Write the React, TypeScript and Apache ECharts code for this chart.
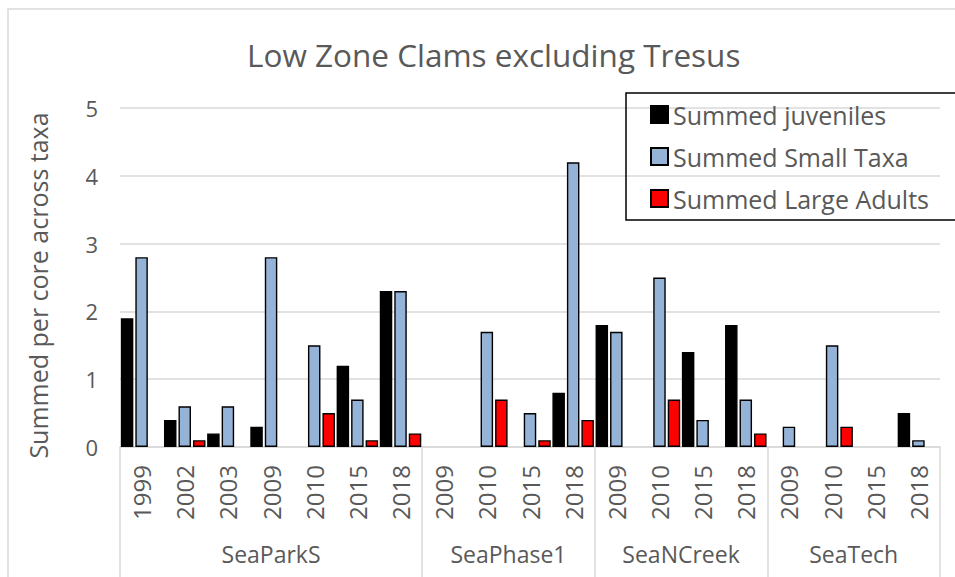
import React, { useEffect, useRef } from "react";
import * as echarts from "echarts";

const groups = ["SeaParkS", "SeaPhase1", "SeaNCreek", "SeaTech"];
const groupYears = [
  ["1999", "2002", "2003", "2009", "2010", "2015", "2018"],
  ["2009", "2010", "2015", "2018"],
  ["2009", "2010", "2015", "2018"],
  ["2009", "2010", "2015", "2018"],
];
const seriesNames = ["Summed juveniles", "Summed Small Taxa", "Summed Large Adults"];
const juveniles = [1.9, 0.4, 0.2, 0.3, 0, 1.2, 2.3, 0, 0, 0, 0.8, 1.8, 0, 1.4, 1.8, 0, 0, 0, 0.5];
const smallTaxa = [2.8, 0.6, 0.6, 2.8, 1.5, 0.7, 2.3, 0, 1.7, 0.5, 4.2, 1.7, 2.5, 0.4, 0.7, 0.3, 1.5, 0, 0.1];
const largeAdults = [0, 0.1, 0, 0, 0.5, 0.1, 0.2, 0, 0.7, 0.1, 0.4, 0, 0.7, 0, 0.2, 0, 0.3, 0, 0];
const yTicks = [0, 1, 2, 3, 4, 5];

const FONT = "'Open Sans', sans-serif";
const TXT = "#595959";
const GRID = "#D9D9D9";

export default function App() {
  const ref = useRef<HTMLDivElement>(null);
  useEffect(() => {
    if (!ref.current) return;
    const chart = echarts.init(ref.current, undefined, { renderer: "svg" });

    const years = groupYears.flat();
    // half-unit axis for group labels and separators
    const boundaries: number[] = [0];
    const mids: Record<number, string> = {};
    let acc = 0;
    groupYears.forEach((g, gi) => {
      mids[acc * 2 + g.length] = groups[gi];
      acc += g.length;
      boundaries.push(acc * 2);
    });
    const halfData = Array.from({ length: years.length * 2 + 1 }, (_, i) => "h" + i);

    const toData = (arr: number[]) => arr.map((v) => (v === 0 ? "-" : v));
    const colors = ["#000000", "#95B3D7", "#FF0000"];
    const vals = [juveniles, smallTaxa, largeAdults];

    chart.setOption({
      animation: false,
      backgroundColor: "#ffffff",
      graphic: [
        {
          type: "rect",
          shape: { x: 8, y: 9, width: 1000, height: 1000 },
          style: { fill: "none", stroke: GRID, lineWidth: 1.5 },
          silent: true,
        },
      ],
      title: {
        text: "Low Zone Clams excluding Tresus",
        left: 242,
        top: 33,
        textStyle: { fontFamily: FONT, fontSize: 31.5, fontWeight: "normal", color: TXT },
      },
      legend: {
        orient: "vertical",
        left: 626,
        top: 93,
        borderColor: "#000",
        borderWidth: 1.5,
        padding: [9, 28, 9, 24],
        itemWidth: 17,
        itemHeight: 17,
        itemGap: 17,
        icon: "rect",
        textStyle: { fontFamily: FONT, fontSize: 25, color: TXT, lineHeight: 24 },
        data: seriesNames,
      },
      grid: { left: 120, right: 15, top: 108, bottom: 130, containLabel: false },
      xAxis: [
        {
          type: "category",
          data: years,
          position: "bottom",
          axisLine: { show: true, lineStyle: { color: GRID, width: 1.5 } },
          axisTick: { show: false },
          axisLabel: {
            interval: 0,
            rotate: 90,
            margin: 18,
            fontFamily: FONT,
            fontSize: 24,
            color: TXT,
          },
        },
        {
          type: "category",
          data: halfData,
          boundaryGap: false,
          position: "bottom",
          axisLine: { show: false },
          axisTick: {
            show: true,
            interval: (i: number) => boundaries.includes(i),
            length: 135,
            lineStyle: { color: GRID, width: 1.5 },
          },
          axisLabel: {
            interval: 0,
            margin: 95,
            fontFamily: FONT,
            fontSize: 23,
            color: TXT,
            formatter: (_v: string, i: number) => mids[i] || "",
          },
        },
      ],
      yAxis: {
        type: "value",
        min: yTicks[0],
        max: yTicks[yTicks.length - 1],
        interval: 1,
        name: "Summed per core across taxa",
        nameLocation: "middle",
        nameGap: 70,
        nameTextStyle: { fontFamily: FONT, fontSize: 25, color: TXT, padding: [0, 16, 0, 0] },
        axisLine: { show: false },
        axisTick: { show: false },
        axisLabel: { margin: 22, fontFamily: FONT, fontSize: 22, color: TXT },
        splitLine: { lineStyle: { color: GRID, width: 1.5 } },
      },
      series: seriesNames.map((name, si) => ({
        name,
        type: "bar",
        xAxisIndex: 0,
        data: toData(vals[si]),
        barWidth: 12.5,
        barGap: "16%",
        itemStyle: { color: colors[si], borderColor: "#000", borderWidth: 1.4 },
      })),
    });
    return () => chart.dispose();
  }, []);
  return (
    <div
      ref={ref}
      style={{ position: "absolute", left: 0, top: 0, width: 955, height: 577, background: "#fff" }}
    />
  );
}
